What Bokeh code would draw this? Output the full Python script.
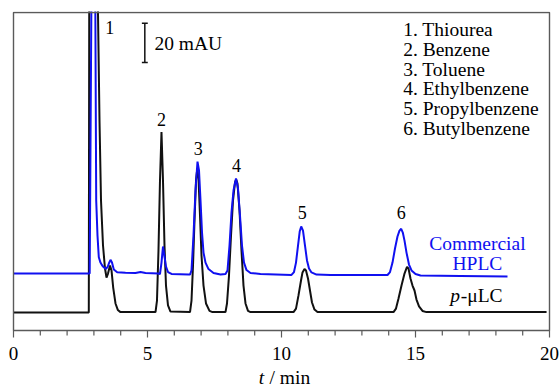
from bokeh.plotting import figure
from bokeh.models import Range1d
from bokeh.core.properties import value
from bokeh.embed import file_html
from bokeh.resources import INLINE

# ---------------- data ----------------
# p-uLC chromatogram (black): time / min, absorbance / mAU
pulc_t = [0.0, 2.81, 2.83, 2.98, 3.14, 3.209, 3.265, 3.340, 3.414, 3.470, 3.526, 3.601, 3.657, 3.720, 3.806, 3.892, 3.993,
          5.299, 5.354, 5.41, 5.466, 5.522, 5.578, 5.634, 5.690, 5.765, 5.858,
          6.586, 6.642, 6.698, 6.754, 6.810, 6.858, 6.903, 6.959, 7.015, 7.090, 7.183, 7.313, 7.425,
          7.910, 7.966, 8.041, 8.116, 8.190, 8.265, 8.310, 8.358, 8.433, 8.507, 8.582, 8.657, 8.750, 8.843,
          10.448, 10.541, 10.634, 10.728, 10.784, 10.858, 10.914, 10.989, 11.063, 11.138, 11.231, 11.343,
          14.179, 14.272, 14.366, 14.478, 14.590, 14.683, 14.739, 14.813, 14.888, 14.963, 15.037, 15.131, 15.261, 15.410, 19.89]
pulc_y = [0.0, 0.0, 200, 420, 165, 97.7, 57.0, 34.1, 22.4, 17.8, 19.8, 23.9, 21.4, 12.7, 4.6, 1.3, 0.2,
          0.2, 6.1, 31.6, 67.2, 91.8, 67.2, 34.1, 13.7, 3.6, 0.5,
          0.2, 6.1, 23.9, 46.8, 67.2, 73.3, 68.2, 49.4, 29.0, 13.7, 4.6, 0.8, 0.2,
          0.2, 4.6, 18.8, 39.2, 57.0, 66.2, 67.7, 65.6, 51.9, 31.6, 13.7, 4.6, 0.8, 0.2,
          0.2, 2.0, 8.7, 16.3, 20.4, 22.2, 21.4, 17.3, 11.2, 5.1, 1.5, 0.2,
          0.2, 2.0, 7.1, 13.7, 19.8, 23.2, 22.4, 17.3, 13.7, 11.2, 6.6, 3.1, 0.8, 0.2, 0.2]

# Commercial HPLC chromatogram (blue): time / min, absorbance / mAU
hplc_t = [0.0, 2.843, 2.91, 2.98, 3.05, 3.086, 3.134, 3.183, 3.246, 3.310, 3.377, 3.451, 3.519, 3.571, 3.619, 3.675,
          3.743, 3.869, 4.179, 4.552, 4.739, 4.925, 5.41,
          5.466, 5.522, 5.578, 5.634, 5.690, 5.765, 5.896, 6.530,
          6.586, 6.642, 6.716, 6.791, 6.866, 6.922, 6.978, 7.034, 7.090, 7.164, 7.276, 7.463, 7.724,
          7.910, 7.985, 8.060, 8.134, 8.209, 8.302, 8.377, 8.451, 8.526, 8.601, 8.694, 8.843, 9.216,
          10.373, 10.466, 10.541, 10.616, 10.679, 10.735, 10.802, 10.877, 10.951, 11.026, 11.119, 11.306, 11.828,
          13.955, 14.049, 14.142, 14.235, 14.328, 14.403, 14.466, 14.526, 14.590, 14.664, 14.757, 14.851, 15.0,
          15.187, 16.679, 18.433]
hplc_y = [0.0, 0.0, 145, 430, 145, 37.2, 19.4, 8.3, 5.6, 4.1, 3.1, 2.4, 3.6, 5.6, 7.0, 5.6, 2.1, 0.7, 0.4, 0.3, 0.8, 0.3, 0.0,
          -0.2, 5.6, 13.8, 8.7, 3.6, 0.8, -0.2, -0.5,
          -0.5, 1.6, 19.4, 42.3, 57.0, 52.5, 37.2, 20.9, 10.7, 5.6, 2.3, 0.3, -0.5,
          -0.2, 1.6, 14.3, 31.1, 42.3, 48.4, 43.3, 29.6, 14.3, 5.6, 1.8, 0.3, -0.2,
          -0.7, 0.8, 5.6, 14.3, 21.4, 24.0, 21.9, 14.3, 6.7, 2.6, 0.6, -0.5, -0.7,
          -0.7, 0.8, 5.6, 12.8, 18.9, 21.9, 22.8, 20.9, 16.8, 10.7, 4.6, 1.6, -0.2, -1.0, -1.2, -1.5]

peak_numbers = ["1", "2", "3", "4", "5", "6"]
compounds = ["1. Thiourea", "2. Benzene", "3. Toluene", "4. Ethylbenzene",
             "5. Propylbenzene", "6. Butylbenzene"]
x_major_ticks = [0, 5, 10, 15, 20]
x_tick_labels = ["0", "5", "10", "15", "20"]
x_minor_ticks = [1, 2, 3, 4, 6, 7, 8, 9, 11, 12, 13, 14, 16, 17, 18, 19]
scale_bar_mAU = 20

# ---------------- layout / style constants ----------------
HPLC_OFFSET = 19.8
FONT = "'Liberation Serif', 'Times New Roman', serif"
BLUE = "#1010f0"
FRAME = "#5a5a5a"
TXT_DY = -6.5               # screen-px correction of the text baseline
W, H = 560, 388
BOX_L, BOX_R, BOX_T, BOX_B = 13, 549, 12, 330   # axes box in pixels
X0, X1 = 0.0, 20.0          # time range of the box
Y0, Y1 = -9.16, 152.7       # mAU range of the box
sx = (X1 - X0) / (BOX_R - BOX_L)   # min per pixel
sy = (Y1 - Y0) / (BOX_B - BOX_T)   # mAU per pixel
TOP = BOX_T - 1
XL, XR = X0 - BOX_L * sx, X1 + (W - BOX_R) * sx
YB, YT = Y0 - (H - BOX_B) * sy, Y1 + (BOX_T - TOP) * sy

peak_label_t = [3.59, 5.52, 6.89, 8.32, 10.77, 14.47]
peak_label_y = [141.8, 94.8, 80.3, 71.4, 47.7, 47.7]
legend_t, legend_top, legend_step = 14.54, 140.5, 10.0

p = figure(width=W, height=H, output_backend="svg", toolbar_location=None,
           x_range=Range1d(XL, XR), y_range=Range1d(YB, YT),
           x_axis_location=None, y_axis_location=None, title_location=None,
           min_border_left=0, min_border_right=0, min_border_top=TOP, min_border_bottom=0)
p.grid.visible = False
p.outline_line_color = None
p.background_fill_color = "white"
p.border_fill_color = "white"

# traces (clipped at the top of the plotting frame)
p.line(pulc_t, pulc_y, line_color="#111111", line_width=2)
p.line(hplc_t, [v + HPLC_OFFSET for v in hplc_y], line_color=BLUE, line_width=2)

# axes box, ticks
p.quad(left=[X0], right=[X1], bottom=[Y0], top=[Y1], fill_color=None, line_color=FRAME, line_width=1.4)
p.segment(x0=x_major_ticks, x1=x_major_ticks, y0=[Y0] * len(x_major_ticks),
          y1=[Y0 - 7 * sy] * len(x_major_ticks), line_color=FRAME, line_width=1.2)
p.segment(x0=x_minor_ticks, x1=x_minor_ticks, y0=[Y0] * len(x_minor_ticks),
          y1=[Y0 - 5 * sy] * len(x_minor_ticks), line_color=FRAME, line_width=1.2)

common = dict(text_font=value(FONT), text_color="black", text_baseline="alphabetic", y_offset=TXT_DY)
p.text(x=x_major_ticks, y=[Y0 - 29 * sy] * len(x_major_ticks), text=x_tick_labels,
       text_font_size="19px", text_align="center", **common)
# axis title  "t / min"
p.text(x=[9.35], y=[Y0 - 53 * sy], text=["t"], text_font_size="19.5px",
       text_font_style="italic", text_align="right", **common)
p.text(x=[9.35], y=[Y0 - 53 * sy], text=["/ min"], text_font_size="19.5px",
       text_align="left", x_offset=5.5, **common)

# scale bar (20 mAU)
sb_t, sb_y0, cap = 4.90, 127.2, 0.11
p.segment(x0=[sb_t, sb_t - cap, sb_t - cap], y0=[sb_y0, sb_y0, sb_y0 + scale_bar_mAU],
          x1=[sb_t, sb_t + cap, sb_t + cap], y1=[sb_y0 + scale_bar_mAU, sb_y0, sb_y0 + scale_bar_mAU],
          line_color="#111111", line_width=1.5)
p.text(x=[5.26], y=[133.7], text=[f"{scale_bar_mAU} mAU"], text_font_size="19.5px",
       text_align="left", **common)

# peak numbers
p.text(x=peak_label_t, y=peak_label_y, text=peak_numbers, text_font_size="18px",
       text_align="center", **common)

# compound list
p.text(x=[legend_t] * len(compounds), y=[legend_top - i * legend_step for i in range(len(compounds))],
       text=compounds, text_font_size="19.5px", text_align="left", **common)

# trace labels
p.text(x=[17.31, 17.31], y=[31.6, 21.7], text=["Commercial", "HPLC"], text_font=value(FONT),
       text_font_size="19.5px", text_color=BLUE, text_baseline="alphabetic", text_align="center",
       y_offset=TXT_DY)
p.text(x=[18.25], y=[5.6], text=["-μLC"], text_font_size="19.5px", text_align="right", **common)
p.text(x=[18.25], y=[5.6], text=["p"], text_font_size="19.5px", text_font_style="italic",
       text_align="right", x_offset=-42.6, **common)

open("out.html", "w").write(file_html(p, INLINE))
